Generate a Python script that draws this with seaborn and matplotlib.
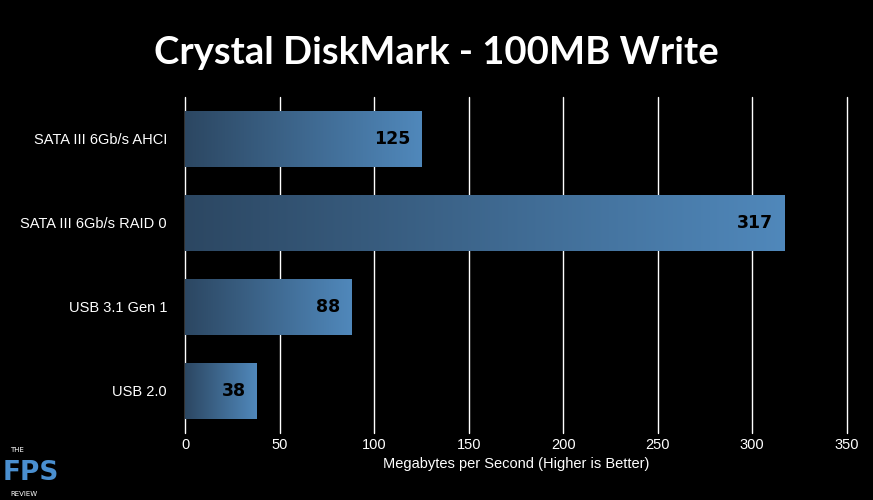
import numpy as np
import pandas as pd
import seaborn as sns
from matplotlib import pyplot as plt
from matplotlib.colors import LinearSegmentedColormap

categories = ["SATA III 6Gb/s AHCI", "SATA III 6Gb/s RAID 0", "USB 3.1 Gen 1", "USB 2.0"]
values = [125, 317, 88, 38]
x_ticks = [0, 50, 100, 150, 200, 250, 300, 350]


def main() -> None:
    df = pd.DataFrame({"device": categories, "mbps": values})
    sns.set_theme(style="dark", rc={"axes.facecolor": "black", "figure.facecolor": "black"})
    fig = plt.figure(figsize=(8.73, 5.0), dpi=100)
    ax = fig.add_axes([0.212, 0.134, 0.758, 0.672])
    sns.barplot(data=df, x="mbps", y="device", color="#4a7aa8", width=0.67, ax=ax)

    cmap = LinearSegmentedColormap.from_list("bar", ["#2c4762", "#5088bb"])
    grad = np.linspace(0, 1, 256).reshape(1, -1)
    for patch in ax.patches:
        x0, y0 = patch.get_x(), patch.get_y()
        w, h = patch.get_width(), patch.get_height()
        im = ax.imshow(grad, extent=[x0, x0 + w, y0 + h, y0], cmap=cmap, aspect="auto", zorder=3)
        im.set_clip_path(patch)
        patch.set_edgecolor("none")
        ax.text(x0 + w - 6, y0 + h / 2, f"{w:.0f}", ha="right", va="center",
                fontsize=12.5, fontweight="bold", color="black", family="DejaVu Sans", zorder=4)

    ax.set_xlim(0, 350)
    ax.set_ylim(3.5, -0.5)
    ax.set_xticks(x_ticks)
    ax.xaxis.grid(True, color="white", linewidth=1)
    for line in ax.get_xgridlines():
        line.set_clip_on(False)
    ax.yaxis.grid(False)
    ax.set_axisbelow(True)
    for spine in ax.spines.values():
        spine.set_visible(False)
    ax.tick_params(colors="white", labelsize=10.5, length=0)
    ax.tick_params(axis="y", pad=13)
    for label in ax.get_yticklabels() + ax.get_xticklabels():
        label.set_color("white")
        label.set_family("Liberation Sans")
    ax.set_ylabel("")
    ax.set_xlabel("Megabytes per Second (Higher is Better)", color="white", fontsize=10.5,
                  family="Liberation Sans", labelpad=4)

    fig.text(0.5, 0.893, "Crystal DiskMark - 100MB Write", ha="center", va="center",
             color="white", fontsize=27.5, fontweight="bold", family="Lato")
    fig.text(0.012, 0.095, "THE", color="white", fontsize=5, family="DejaVu Sans")
    fig.text(0.003, 0.04, "FPS", color="#4a8fd0", fontsize=19, fontweight="bold",
             family="DejaVu Sans")
    fig.text(0.012, 0.008, "REVIEW", color="white", fontsize=5, family="DejaVu Sans")

    fig.savefig("out.png", dpi=100, facecolor="black")
    plt.close(fig)


if __name__ == "__main__":
    main()
